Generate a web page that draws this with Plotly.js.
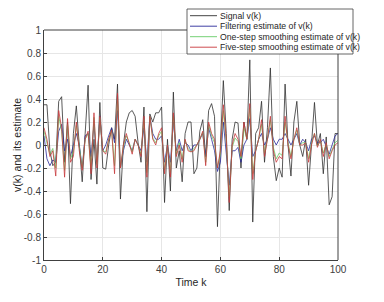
<!DOCTYPE html>
<html>
<head>
<meta charset="utf-8">
<script src="https://cdn.plot.ly/plotly-3.0.1.min.js"></script>
<style>html,body{margin:0;padding:0;background:#fff;}#chart{width:384px;height:302px;}</style>
</head>
<body>
<div id="chart"></div>
<script>
const k = [];
for (let i = 0; i <= 100; i++) k.push(i);

const signal = [0.35,0.35,-0.05,-0.18,-0.15,0.38,0.42,-0.15,0.2,-0.51,
0.1,0.34,0.0,-0.32,0.1,0.52,-0.3,0.05,-0.34,0.37,
-0.2,-0.21,0.0,0.15,0.05,0.53,-0.47,0.0,0.2,0.28,
0.3,0.25,0.02,-0.15,0.33,-0.58,0.27,0.2,0.28,0.28,
0.33,-0.5,0.05,-0.4,0.46,-0.2,-0.05,-0.32,0.1,0.2,
0.2,-0.25,-0.2,0.12,0.22,-0.1,0.3,0.36,0.25,-0.71,
0.0,0.56,0.1,-0.57,0.05,0.2,0.19,-0.2,0.2,0.05,
0.74,-0.67,0.1,0.15,0.38,-0.15,0.15,0.67,-0.1,-0.31,
-0.2,-0.28,0.53,0.0,-0.27,0.2,0.38,0.0,-0.1,0.05,
-0.35,0.0,0.37,0.0,0.1,-0.25,0.07,-0.52,-0.45,0.1,0.1];

const filtering = [0.08,-0.12,-0.18,-0.13,-0.15,0.12,0.18,-0.05,0.05,-0.1,
0.0,0.1,0.0,-0.2,0.08,0.1,-0.1,0.18,-0.15,0.25,
-0.05,0.0,0.08,0.15,0.02,0.3,-0.2,-0.05,0.05,0.0,
-0.05,0.05,0.0,-0.05,0.15,-0.15,0.25,0.1,0.05,0.05,
0.08,-0.15,0.0,-0.15,0.2,-0.05,0.05,-0.05,0.02,0.0,
-0.05,0.0,0.0,0.05,0.1,-0.1,0.15,0.05,-0.05,-0.23,
-0.15,0.2,-0.05,-0.35,-0.05,-0.05,-0.02,-0.15,0.0,0.05,
0.23,-0.1,-0.05,0.05,0.1,0.0,0.05,0.15,0.05,0.0,
0.05,0.05,0.1,0.05,0.0,0.05,0.1,0.0,0.05,0.02,
-0.05,0.05,0.08,0.02,0.02,0.05,-0.02,-0.08,0.0,0.08,0.1];

const oneStep = [0.12,0.02,-0.08,-0.03,-0.2,0.25,0.12,-0.22,0.18,-0.12,
-0.06,0.17,-0.03,-0.2,0.05,0.1,-0.2,0.24,-0.17,0.24,
-0.05,-0.06,0.05,0.13,-0.18,0.4,-0.2,-0.02,0.08,0.02,
-0.06,0.05,0.0,-0.08,0.22,-0.24,0.25,0.06,0.02,0.08,
0.12,-0.22,0.0,-0.24,0.25,-0.08,0.02,-0.12,0.04,-0.03,
-0.06,-0.03,0.0,0.05,0.11,-0.15,0.18,0.08,0.02,-0.2,
-0.08,0.3,0.02,-0.45,-0.02,0.06,0.03,-0.12,0.15,0.05,
0.32,-0.25,-0.05,0.05,0.18,-0.07,0.05,0.22,-0.02,-0.12,
-0.07,-0.09,0.2,0.02,-0.1,0.05,0.13,0.0,0.02,0.02,
-0.12,0.02,0.1,-0.01,0.04,-0.07,0.01,-0.1,-0.04,0.02,0.04];

const fiveStep = [0.15,0.05,-0.1,-0.05,-0.27,0.3,0.15,-0.28,0.23,-0.15,
-0.1,0.2,-0.05,-0.22,0.05,0.12,-0.25,0.28,-0.2,0.25,
-0.05,-0.08,0.05,0.13,-0.25,0.45,-0.2,0.0,0.1,0.0,
-0.08,0.05,0.0,-0.1,0.25,-0.28,0.25,0.05,0.0,0.1,
0.15,-0.25,0.0,-0.28,0.28,-0.1,0.0,-0.15,0.05,-0.05,
-0.06,-0.05,0.0,0.05,0.12,-0.18,0.2,0.1,0.05,-0.2,
-0.05,0.35,0.05,-0.5,0.0,0.1,0.05,-0.1,0.2,0.05,
0.36,-0.3,-0.05,0.05,0.22,-0.1,0.05,0.25,-0.05,-0.15,
-0.1,-0.12,0.25,0.0,-0.12,0.05,0.15,0.0,0.0,0.02,
-0.15,0.0,0.1,-0.02,0.05,-0.1,0.02,-0.12,-0.05,0.0,0.02];

const names = ['Signal v(k)','Filtering estimate of v(k)','One-step smoothing estimate of v(k)','Five-step smoothing estimate of v(k)'];
const colors = ['#303030','#2a2a9a','#66cc66','#c8383c'];
const series = [signal, filtering, oneStep, fiveStep];

const traces = series.map((s, i) => ({
  x: k, y: s, type: 'scatter', mode: 'lines', name: names[i],
  line: {color: colors[i], width: 0.8}
}));

const tickX = [0,20,40,60,80,100];
const tickY = [-1,-0.8,-0.6,-0.4,-0.2,0,0.2,0.4,0.6,0.8,1];

// plot area in pixels: x 44..338, y 30..260
const L = 44, R = 338, T = 30, B = 260;
const px = v => (v - L) / (R - L);
const py = v => (B - v) / (B - T);
const axisColor = '#404040';

const legTop = 9, legBottom = 54, legLeft = 187, legRight = 353;

const shapes = [
  // top border up to legend, right border below legend (MATLAB box, legend on top)
  {type: 'line', xref: 'paper', yref: 'paper', x0: 0, x1: px(legLeft), y0: 1, y1: 1,
   line: {color: axisColor, width: 1}, layer: 'above'},
  {type: 'line', xref: 'paper', yref: 'paper', x0: 1, x1: 1, y0: 0, y1: py(legBottom),
   line: {color: axisColor, width: 1}, layer: 'above'},
  // legend box
  {type: 'rect', xref: 'paper', yref: 'paper',
   x0: px(legLeft), x1: px(legRight), y0: py(legBottom), y1: py(legTop),
   fillcolor: '#ffffff', line: {color: axisColor, width: 0.8}, layer: 'above'}
];
const annotations = [];
const rowY = [15.7, 26.2, 36.7, 47.2];
names.forEach((n, i) => {
  shapes.push({
    type: 'line', xref: 'paper', yref: 'paper',
    x0: px(190), x1: px(217), y0: py(rowY[i]), y1: py(rowY[i]),
    line: {color: colors[i], width: 0.9}, layer: 'above'
  });
  annotations.push({
    xref: 'paper', yref: 'paper', x: px(218), y: py(rowY[i]),
    xanchor: 'left', yanchor: 'middle', text: n, showarrow: false,
    font: {size: 8.7, color: '#262626'}
  });
});

const layout = {
  width: 384, height: 302,
  margin: {l: L, r: 384 - R, t: T, b: 302 - B},
  paper_bgcolor: '#fff', plot_bgcolor: '#fff',
  font: {family: 'Liberation Sans, Arial, sans-serif', size: 10, color: '#404040'},
  showlegend: false,
  shapes: shapes,
  annotations: annotations,
  xaxis: {
    range: [0, 100], tickvals: tickX, ticktext: tickX.map(String),
    showgrid: true, gridcolor: '#e6e6e6', gridwidth: 1,
    zeroline: false, showline: true, linecolor: axisColor, linewidth: 1, mirror: false,
    ticks: 'inside', ticklen: 3, tickcolor: axisColor,
    title: {text: 'Time k', font: {size: 10.5, color: '#262626'}, standoff: 4}
  },
  yaxis: {
    range: [-1, 1], tickvals: tickY, ticktext: tickY.map(v => String(Math.round(v*10)/10)),
    showgrid: true, gridcolor: '#e6e6e6', gridwidth: 1,
    zeroline: false, showline: true, linecolor: axisColor, linewidth: 1, mirror: false,
    ticks: 'inside', ticklen: 3, tickcolor: axisColor,
    title: {text: 'v(k) and its estimate', font: {size: 10.5, color: '#262626'}, standoff: 0}
  }
};

Plotly.newPlot('chart', traces, layout, {displayModeBar: false, staticPlot: true});
</script>
</body>
</html>
